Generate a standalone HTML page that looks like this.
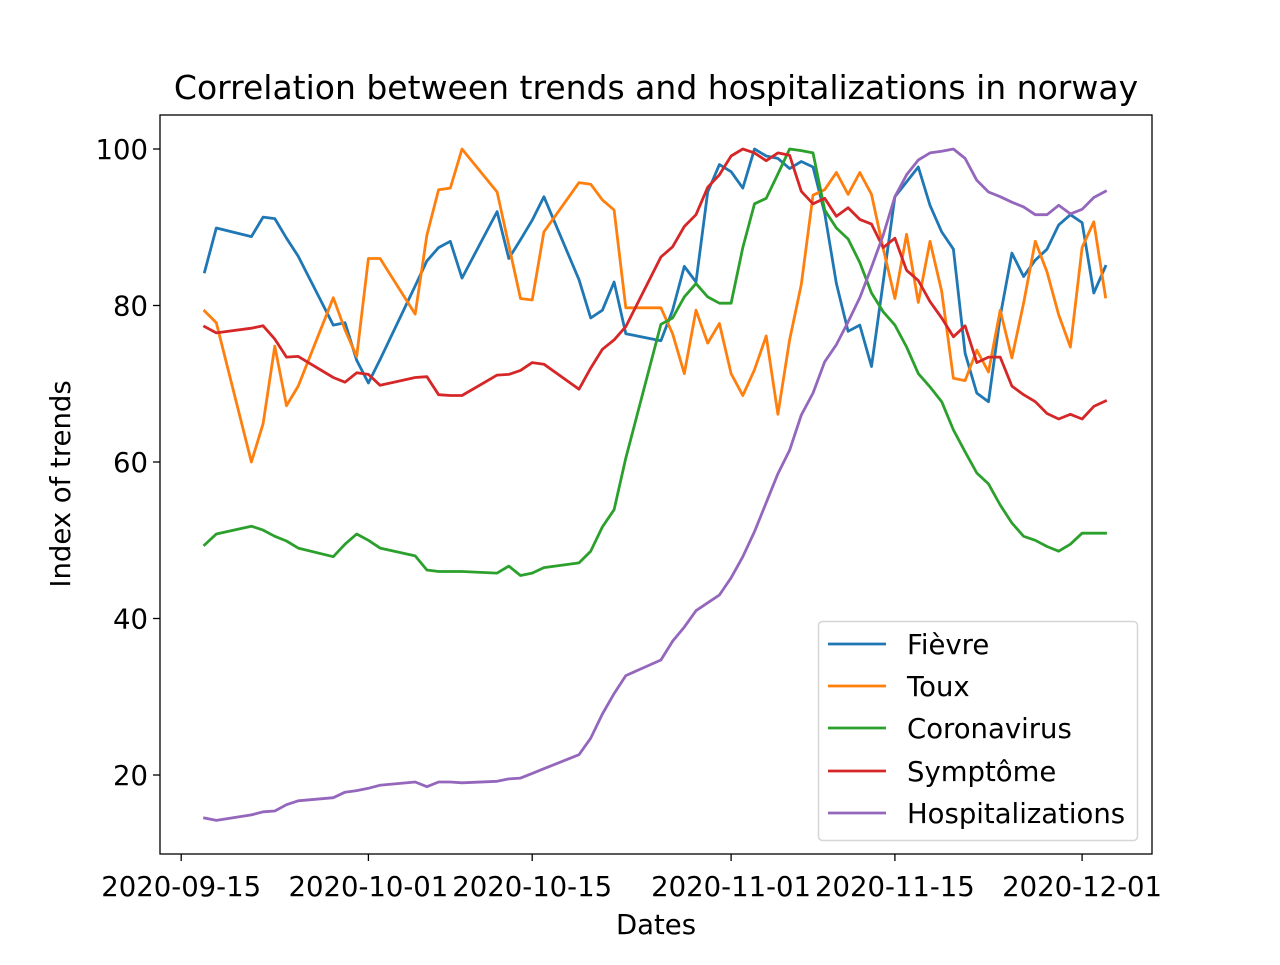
<!DOCTYPE html>
<html><head><meta charset="utf-8"><style>
html,body{margin:0;padding:0;background:#fff;}
svg text{font-family:"DejaVu Sans","Liberation Sans",sans-serif;fill:#000;}
</style></head><body>
<svg id="chart" width="1280" height="960" viewBox="0 0 1280 960" xmlns="http://www.w3.org/2000/svg">
<rect x="0" y="0" width="1280" height="960" fill="#fff"/>
<text x="656" y="99" font-size="33" text-anchor="middle">Correlation between trends and hospitalizations in norway</text>
<g id="plot"></g>
<text x="656" y="934" font-size="27.5" text-anchor="middle">Dates</text>
<text x="0" y="0" font-size="27.5" text-anchor="middle" transform="translate(70,484) rotate(-90)">Index of trends</text>
<g>
<rect x="818.5" y="621.5" width="319" height="219" rx="4" fill="#fff" fill-opacity="0.8" stroke="#d6d6d6" stroke-width="1.5"/>
<g><line x1="828" y1="644" x2="886" y2="644" stroke="#1f77b4" stroke-width="2.8"/><text x="907" y="654" font-size="27.5">Fièvre</text></g>
<g><line x1="828" y1="686" x2="886" y2="686" stroke="#ff7f0e" stroke-width="2.8"/><text x="907" y="696" font-size="27.5">Toux</text></g>
<g><line x1="828" y1="728" x2="886" y2="728" stroke="#2ca02c" stroke-width="2.8"/><text x="907" y="738" font-size="27.5">Coronavirus</text></g>
<g><line x1="828" y1="771" x2="886" y2="771" stroke="#d62728" stroke-width="2.8"/><text x="907" y="781" font-size="27.5">Symptôme</text></g>
<g><line x1="828" y1="813" x2="886" y2="813" stroke="#9467bd" stroke-width="2.8"/><text x="907" y="823" font-size="27.5">Hospitalizations</text></g>
</g>
</svg>
<script>
// day offsets from 2020-09-15
const days = [2,3,6,7,8,9,10,13,14,15,16,17,20,21,22,23,24,27,28,29,30,31,34,35,36,37,38,
41,42,43,44,45,46,47,48,49,50,51,52,53,54,55,56,57,58,59,60,61,62,63,64,65,66,67,68,69,70,71,72,73,74,75,76,77,78,79];
const fievre = [84.3,89.9,88.8,91.3,91.1,88.6,86.3,77.5,77.8,73.0,70.1,73.1,82.5,85.7,87.4,88.2,83.5,92.0,86.0,88.4,90.9,93.9,83.3,78.4,79.4,83.0,76.4,
75.5,79.4,85.0,83.0,94.5,98.0,97.1,95.0,100,99.1,98.8,97.5,98.4,97.7,91.8,82.8,76.7,77.5,72.2,83.0,93.9,95.8,97.7,92.8,89.4,87.2,73.9,68.8,67.7,78.6,86.7,83.7,85.8,87.2,90.3,91.6,90.6,81.6,85.0];
const toux = [79.3,77.8,60.0,64.9,74.8,67.2,69.7,81.0,76.9,73.5,86.0,86.0,78.9,89.0,94.8,95.0,100,94.5,87.7,80.9,80.7,89.4,95.7,95.5,93.5,92.2,79.7,
79.7,76.4,71.3,79.4,75.2,77.7,71.3,68.5,71.8,76.1,66.1,75.6,82.7,94.1,94.8,97.0,94.2,97.0,94.2,87.3,80.9,89.1,80.4,88.2,81.8,70.7,70.4,74.3,71.5,79.4,73.3,80.3,88.2,84.3,78.8,74.7,87.4,90.7,81.1];
const coronavirus = [49.4,50.8,51.8,51.3,50.5,49.9,49.0,47.9,49.5,50.8,50.0,49.0,48.0,46.2,46.0,46.0,46.0,45.8,46.7,45.5,45.8,46.5,47.1,48.6,51.7,53.9,60.5,
77.6,78.4,81.1,82.8,81.1,80.3,80.3,87.4,93.0,93.7,96.8,100,99.8,99.5,92.2,89.9,88.5,85.5,81.6,79.2,77.5,74.7,71.3,69.6,67.7,64.1,61.3,58.6,57.2,54.5,52.2,50.5,50.0,49.2,48.6,49.5,50.9,50.9,50.9];
const symptome = [77.3,76.5,77.1,77.4,75.7,73.4,73.5,70.8,70.2,71.4,71.2,69.8,70.8,70.9,68.6,68.5,68.5,71.1,71.2,71.7,72.7,72.5,69.3,72.0,74.4,75.6,77.3,
86.2,87.5,90.1,91.6,95.1,96.7,99.1,100,99.5,98.5,99.5,99.2,94.6,93.0,93.7,91.4,92.5,91.0,90.4,87.4,88.6,84.5,83.2,80.5,78.4,76.0,77.4,72.7,73.4,73.4,69.7,68.6,67.7,66.2,65.5,66.1,65.5,67.1,67.8];
const hospitalizations = [14.5,14.2,14.9,15.3,15.4,16.2,16.7,17.1,17.8,18.0,18.3,18.7,19.1,18.5,19.1,19.1,19.0,19.2,19.5,19.6,20.2,20.8,22.6,24.7,27.8,30.4,32.7,
34.7,37.1,38.9,41.0,42.0,43.0,45.2,47.9,51.1,54.8,58.5,61.5,66.0,68.8,72.8,75.0,77.9,81.0,84.9,89.0,93.9,96.7,98.6,99.5,99.7,100,98.8,96.0,94.5,93.9,93.2,92.6,91.6,91.6,92.8,91.7,92.3,93.8,94.6];
const xTickDays = [0,16,30,47,61,77];
const xTickLabels = ["2020-09-15","2020-10-01","2020-10-15","2020-11-01","2020-11-15","2020-12-01"];
const yTicks = [20,40,60,80,100];

const NS = "http://www.w3.org/2000/svg";
const X0 = 160, X1 = 1152, Y0 = 115, Y1 = 854;
function xs(d){ return 181.2 + 11.70*d; }
function ys(v){ return 931.5 - 7.825*v; }
const plot = document.getElementById('plot');
function mk(tag, attrs){ const e = document.createElementNS(NS, tag); for (const k in attrs) e.setAttribute(k, attrs[k]); return e; }

const series = [
  ['fievre', fievre, '#1f77b4'],
  ['toux', toux, '#ff7f0e'],
  ['coronavirus', coronavirus, '#2ca02c'],
  ['symptome', symptome, '#d62728'],
  ['hospitalizations', hospitalizations, '#9467bd']
];
series.forEach(s => {
  const pts = s[1].map((v,i) => xs(days[i]).toFixed(1)+','+ys(v).toFixed(1)).join(' ');
  const pl = mk('polyline', {points: pts, fill: 'none', stroke: s[2], 'stroke-width': 2.8, 'stroke-linejoin': 'round', 'stroke-linecap': 'square'});
  
  
  plot.appendChild(pl);
});

const frame = mk('rect', {x: X0, y: Y0, width: X1-X0, height: Y1-Y0, fill: 'none', stroke: '#000', 'stroke-width': 1.3});


plot.appendChild(frame);

xTickDays.forEach((d,i) => {
  const x = xs(d);
  const t = mk('line', {x1: x, y1: Y1, x2: x, y2: Y1+7, stroke: '#000', 'stroke-width': 1.3});
  
  
  plot.appendChild(t);
  const l = mk('text', {x: x, y: 896, 'font-size': 27.5, 'text-anchor': 'middle'});
  l.textContent = xTickLabels[i];
  
  
  plot.appendChild(l);
});
yTicks.forEach(v => {
  const y = ys(v);
  const t = mk('line', {x1: X0-7, y1: y, x2: X0, y2: y, stroke: '#000', 'stroke-width': 1.3});
  
  
  plot.appendChild(t);
  const l = mk('text', {x: X0-12, y: y+10, 'font-size': 27.5, 'text-anchor': 'end'});
  l.textContent = String(v);
  
  
  plot.appendChild(l);
});
</script>
</body></html>
